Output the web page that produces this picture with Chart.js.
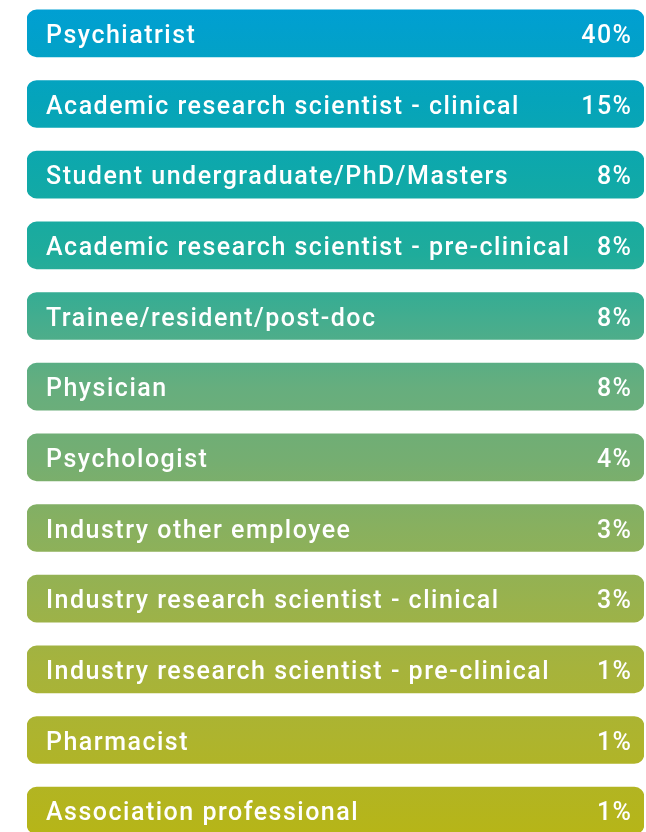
<!DOCTYPE html>
<html>
<head>
<meta charset="utf-8">
<script src="https://cdn.jsdelivr.net/npm/chart.js@4/dist/chart.umd.min.js"></script>
<style>
  html, body { margin: 0; padding: 0; background: #fff; overflow: hidden; }
  #wrap { position: absolute; left: 0; top: -2px; width: 646px; height: 848px; }
</style>
</head>
<body>
<div id="wrap"><canvas id="rolesChart"></canvas></div>
<script>
// Répartition des répondants par profession (%)
const roles = [
  'Psychiatrist',
  'Academic research scientist - clinical',
  'Student undergraduate/PhD/Masters',
  'Academic research scientist - pre-clinical',
  'Trainee/resident/post-doc',
  'Physician',
  'Psychologist',
  'Industry other employee',
  'Industry research scientist - clinical',
  'Industry research scientist - pre-clinical',
  'Pharmacist',
  'Association professional',
];
const shares = [40, 15, 8, 8, 8, 8, 4, 3, 3, 1, 1, 1];

// chaque ligne est une "pastille" pleine largeur (100 %), la part est écrite dedans
const FULL = 100;

const STOPS = [
  [0.00, '#009fd3'],
  [0.11, '#05a4bb'],
  [0.21, '#10a9a8'],
  [0.30, '#1fac9b'],
  [0.38, '#45ad8e'],
  [0.46, '#66ae7e'],
  [0.55, '#75ae71'],
  [0.63, '#88b05f'],
  [0.72, '#99b24d'],
  [0.80, '#a6b33c'],
  [0.89, '#aeb42d'],
  [1.00, '#b6b518'],
];

let grad = null;
function fill(ctx) {
  const { chart } = ctx;
  if (!chart.chartArea) return STOPS[0][1];
  if (!grad) {
    grad = chart.ctx.createLinearGradient(0, 10, 0, 834);
    STOPS.forEach(([o, c]) => grad.addColorStop(o, c));
  }
  return grad;
}

const LS = 1.5;

const barText = {
  id: 'barText',
  afterDatasetsDraw(chart) {
    const { ctx, chartArea } = chart;
    const meta = chart.getDatasetMeta(0);
    ctx.save();
    ctx.fillStyle = '#ffffff';
    ctx.font = '500 25px Roboto';
    ctx.letterSpacing = LS + 'px';
    ctx.textBaseline = 'alphabetic';
    meta.data.forEach((bar, i) => {
      const y = bar.y + 9.5;
      ctx.textAlign = 'left';
      ctx.fillText(roles[i], chartArea.left + 19, y);
      ctx.textAlign = 'right';
      ctx.fillText(`${shares[i]}%`, chartArea.right - 13 + LS, y);
    });
    ctx.restore();
  },
};

new Chart(document.getElementById('rolesChart'), {
  type: 'bar',
  data: {
    labels: roles,
    datasets: [{
      label: 'Part des répondants',
      data: shares.map(() => FULL),
      backgroundColor: fill,
      borderWidth: 0,
      borderSkipped: false,
      borderRadius: 10,
      barThickness: 47,
    }],
  },
  options: {
    indexAxis: 'y',
    responsive: true, maintainAspectRatio: false,
    animation: false,
    layout: { padding: { left: 27, right: 2, top: 0, bottom: 0 } },
    plugins: { legend: { display: false }, tooltip: { enabled: false } },
    scales: {
      x: { display: false, min: 0, max: FULL },
      y: { display: false },
    },
  },
  plugins: [barText],
});
</script>
</body>
</html>
